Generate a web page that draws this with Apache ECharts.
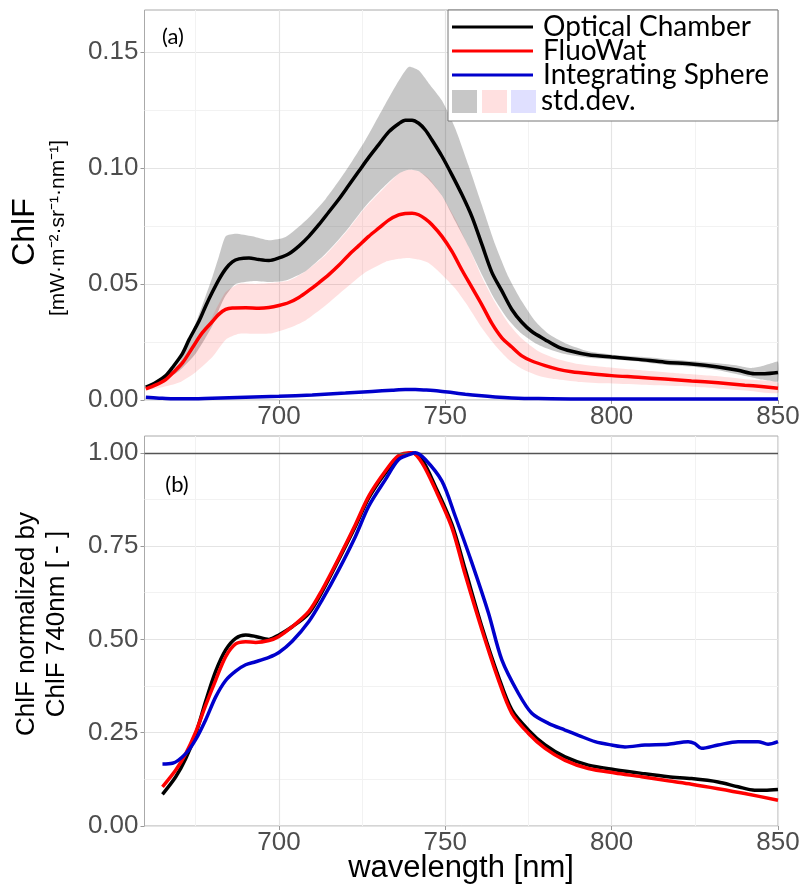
<!DOCTYPE html>
<html>
<head>
<meta charset="utf-8">
<script src="https://cdn.jsdelivr.net/npm/echarts@6/dist/echarts.min.js"></script>
<style>
html,body{margin:0;padding:0;background:#fff;}
#chart{width:804px;height:885px;}
</style>
</head>
<body>
<div id="chart"></div>
<script>
// ---------- Panel (a): ChlF radiance ----------
const wlBlackA = [660,663,666,668,671,673,676,678,680,682,684,686,688,691,694,697,700,703,706,709,712,715,718,721,724,727,730,733,736,738,740,742,744,746,749,752,755,758,761,764,767,770,773,776,780,784,788,793,800,808,816,824,832,838,843,846,850];
const blackA   = [0.0055,0.0075,0.0105,0.014,0.020,0.026,0.034,0.0405,0.0465,0.052,0.0565,0.0595,0.0608,0.0612,0.0605,0.0601,0.0612,0.063,0.0663,0.0705,0.0755,0.081,0.0865,0.0925,0.0985,0.1045,0.110,0.1155,0.119,0.1205,0.1205,0.1192,0.1163,0.112,0.105,0.097,0.0885,0.079,0.067,0.055,0.047,0.039,0.0335,0.0295,0.026,0.0228,0.021,0.0195,0.0185,0.0175,0.0163,0.0155,0.0142,0.0128,0.0113,0.0113,0.0118];

const wlRedA = [660,663,666,668,671,674,677,680,682,684,686,690,694,697,700,703,706,709,712,715,718,721,724,727,730,733,736,738,740,742,744,746,749,752,755,758,761,764,767,770,773,776,780,784,788,793,800,808,816,824,832,840,845,850];
const redA   = [0.0048,0.0065,0.0088,0.0115,0.016,0.0225,0.029,0.0338,0.037,0.039,0.0396,0.0397,0.0395,0.0398,0.0407,0.042,0.0442,0.0472,0.0505,0.054,0.058,0.0625,0.0665,0.0705,0.074,0.0775,0.0797,0.0803,0.0805,0.0798,0.078,0.0755,0.0705,0.064,0.056,0.0485,0.041,0.033,0.0268,0.0228,0.019,0.0168,0.0148,0.0132,0.0122,0.0114,0.0105,0.0098,0.009,0.0082,0.0074,0.0064,0.0058,0.0051];

const wlBlueA = [660,664,668,672,680,690,700,710,720,728,734,738,741,744,748,752,756,760,765,770,778,790,810,830,850];
const blueA   = [0.0012,0.0008,0.0005,0.0005,0.0008,0.0012,0.0016,0.0022,0.0030,0.0037,0.0042,0.0045,0.0045,0.0043,0.0039,0.0032,0.0025,0.0019,0.0013,0.0009,0.0006,0.0004,0.0004,0.0004,0.0004];

// std.dev band of Optical Chamber
const wlGray   = [660,665,670,675,680,682,684,687,692,697,702,708,714,720,726,732,736,739,742,745,749,753,757,761,765,769,773,777,781,786,793,801,809,816,824,832,838,842,845,848,850];
const grayUp   = [0.006,0.010,0.016,0.033,0.053,0.062,0.0705,0.0716,0.0705,0.0688,0.0702,0.0772,0.0865,0.0985,0.112,0.1275,0.1375,0.1435,0.142,0.1365,0.129,0.117,0.101,0.084,0.067,0.053,0.0425,0.034,0.0285,0.0245,0.021,0.0194,0.0186,0.0177,0.0168,0.0158,0.0148,0.0138,0.0145,0.0158,0.0165];
const grayLo   = [0.005,0.008,0.0125,0.020,0.032,0.039,0.045,0.050,0.0512,0.0508,0.0515,0.0555,0.063,0.0725,0.0835,0.0925,0.0975,0.0992,0.0985,0.095,0.088,0.077,0.066,0.054,0.043,0.0345,0.0285,0.0245,0.022,0.0198,0.0182,0.0174,0.0164,0.0152,0.0144,0.0128,0.011,0.0098,0.0088,0.0082,0.008];

// std.dev band of FluoWat
const wlPink   = [660,665,670,675,680,684,688,693,698,703,708,714,720,726,732,736,739,742,745,749,753,757,761,765,769,773,778,783,790,798,809,820,832,841,850];
const pinkUp   = [0.0058,0.0085,0.0135,0.0225,0.036,0.0465,0.050,0.050,0.0505,0.0515,0.0555,0.0625,0.072,0.083,0.092,0.0975,0.0992,0.0985,0.0955,0.088,0.078,0.066,0.053,0.042,0.033,0.0265,0.021,0.018,0.0155,0.0142,0.0128,0.0115,0.0102,0.0088,0.0075];
const pinkLo   = [0.0042,0.0055,0.0075,0.012,0.0185,0.026,0.0285,0.0285,0.0288,0.031,0.0343,0.0407,0.048,0.055,0.0595,0.0608,0.0612,0.0605,0.059,0.054,0.048,0.040,0.031,0.0235,0.0175,0.0135,0.0105,0.009,0.0078,0.0072,0.0066,0.006,0.005,0.004,0.003];

// ---------- Panel (b): normalized by ChlF 740 nm ----------
const wlBlackB = [665,669,672,675,678,681,684,687,690,693,697,700,704,709,713,718,723,727,732,736,740,743,747,752,756,761,766,770,775,780,786,793,801,809,817,824,832,838,843,846,850];
const blackB   = [0.085,0.132,0.181,0.247,0.335,0.415,0.472,0.503,0.512,0.508,0.500,0.512,0.534,0.570,0.628,0.714,0.803,0.879,0.946,0.987,1.000,0.982,0.910,0.808,0.687,0.534,0.400,0.311,0.257,0.217,0.185,0.163,0.151,0.141,0.132,0.127,0.118,0.105,0.096,0.096,0.098];

const wlRedB = [665,669,672,675,678,681,684,687,690,693,697,700,704,709,713,718,723,727,732,736,740,743,747,752,756,761,766,770,775,780,786,793,801,809,817,824,832,840,850];
const redB   = [0.105,0.150,0.194,0.252,0.324,0.391,0.454,0.488,0.494,0.492,0.497,0.508,0.534,0.575,0.633,0.718,0.808,0.884,0.951,0.993,1.000,0.973,0.902,0.799,0.673,0.526,0.391,0.302,0.248,0.208,0.176,0.154,0.142,0.132,0.121,0.112,0.100,0.087,0.069];

const wlBlueB = [665,668,672,675,678,681,684,687,690,693,697,700,704,709,713,718,723,727,732,736,740,741,744,749,753,758,763,767,772,776,781,786,790,795,800,804,810,817,823,825,827,832,838,844,847,850];
const blueB   = [0.166,0.168,0.194,0.232,0.285,0.346,0.390,0.415,0.432,0.440,0.452,0.465,0.495,0.548,0.606,0.687,0.776,0.857,0.928,0.982,0.998,1.000,0.982,0.924,0.830,0.705,0.570,0.445,0.355,0.302,0.275,0.257,0.243,0.226,0.217,0.212,0.217,0.219,0.226,0.221,0.208,0.217,0.226,0.226,0.219,0.226];

// ---------- Axes / ticks ----------
const xMajor = [700,750,800,850];
const xMinor = [675,725,775,825];
const yMajorA = [0,0.05,0.10,0.15];
const yMinorA = [0.025,0.075,0.125];
const yMajorB = [0,0.25,0.5,0.75,1.0];
const yMinorB = [0.125,0.375,0.625,0.875];
const seriesNames = ['Optical Chamber','FluoWat','Integrating Sphere'];
const refLineB = 1.0;

const pairs = (xs, ys) => xs.map((x, i) => [x, ys[i]]);

const COL = {black:'#000000', red:'#ff0000', blue:'#0000cc'};
const LABEL_FONT = 'Liberation Sans, Arial, sans-serif';

function majorX(gi){
  return {gridIndex:gi, type:'value', min:659.6, max:850,
    axisLine:{show:false},
    axisTick:{show:true, customValues:xMajor, length:4, lineStyle:{color:'#999'}},
    axisLabel:{customValues:xMajor, fontFamily:LABEL_FONT, fontSize:26, color:'#4d4d4d', margin:4},
    splitLine:{show:true, lineStyle:{color:'#e4e4e4', width:1.2}}};
}
function minorX(gi){
  return {gridIndex:gi, type:'value', min:659.6, max:850, position:'top',
    axisLine:{show:false}, axisLabel:{show:false},
    axisTick:{show:false, customValues:xMinor},
    splitLine:{show:true, lineStyle:{color:'#f2f2f2', width:1}}};
}
function majorY(gi, max, maj){
  return {gridIndex:gi, type:'value', min:0, max:max,
    axisLine:{show:false},
    axisTick:{show:true, customValues:maj, length:4, lineStyle:{color:'#999'}},
    axisLabel:{customValues:maj, fontFamily:LABEL_FONT, fontSize:26, color:'#4d4d4d', margin:6,
      formatter:v => Number(v).toFixed(2)},
    splitLine:{show:true, lineStyle:{color:'#e4e4e4', width:1.2}}};
}
function minorY(gi, max, mino){
  return {gridIndex:gi, type:'value', min:0, max:max, position:'right',
    axisLine:{show:false}, axisLabel:{show:false},
    axisTick:{show:false, customValues:mino},
    splitLine:{show:true, lineStyle:{color:'#f2f2f2', width:1}}};
}

function band(xs, lo, hi, color, z){
  return {type:'custom', xAxisIndex:0, yAxisIndex:0, clip:true, z:z, silent:true,
    data:[[750, 0.05]],
    renderItem:function(params, api){
      const pts = [];
      for (let i = 0; i < xs.length; i++) pts.push(api.coord([xs[i], hi[i]]));
      for (let i = xs.length - 1; i >= 0; i--) pts.push(api.coord([xs[i], lo[i]]));
      return {type:'polygon', shape:{points:pts, smooth:0.2}, style:{fill:color}};
    }};
}
function line(name, xs, ys, color, xi, yi, z, extra){
  return Object.assign({type:'line', name:name, xAxisIndex:xi, yAxisIndex:yi, data:pairs(xs, ys),
    symbol:'none', smooth:0.3, z:z, lineStyle:{color:color, width:3.5}, itemStyle:{color:color}}, extra || {});
}

const chart = echarts.init(document.getElementById('chart'), null, {renderer:'canvas'});
const option = {
  animation:false,
  backgroundColor:'#ffffff',
  grid:[
    {left:144.5, top:10, width:633.5, height:390, show:true, borderColor:'#aaaaaa', borderWidth:1, backgroundColor:'transparent'},
    {left:144.5, top:436, width:633.5, height:390, show:true, borderColor:'#aaaaaa', borderWidth:1, backgroundColor:'transparent'}
  ],
  xAxis:[majorX(0), minorX(0), majorX(1), minorX(1)],
  yAxis:[majorY(0, 0.168, yMajorA), minorY(0, 0.168, yMinorA), majorY(1, 1.045, yMajorB), minorY(1, 1.045, yMinorB)],
  legend:{
    data:seriesNames, orient:'vertical', left:452, top:13, padding:0, itemGap:-4,
    icon:'rect', itemWidth:81, itemHeight:3, z:8, selectedMode:false,
    textStyle:{fontFamily:'Lato, sans-serif', fontSize:28, color:'#000', lineHeight:25, padding:[0,0,0,5]}
  },
  graphic:[
    {type:'rect', z:7, shape:{x:448, y:10, width:330, height:111}, style:{fill:'#ffffff', stroke:'#777777', lineWidth:1}},
    {type:'rect', z:8, shape:{x:452, y:90, width:25, height:23}, style:{fill:'rgba(0,0,0,0.22)'}},
    {type:'rect', z:8, shape:{x:482, y:90, width:25, height:23}, style:{fill:'rgba(255,0,0,0.12)'}},
    {type:'rect', z:8, shape:{x:511, y:90, width:25, height:23}, style:{fill:'rgba(0,0,255,0.12)'}},
    {type:'text', z:8, x:541, y:101, style:{text:'std.dev.', font:'28px Lato, sans-serif', fill:'#000', align:'left', verticalAlign:'middle'}},
    {type:'text', z:8, x:173, y:37, style:{text:'(a)', font:'22px Lato, sans-serif', fill:'#000', align:'center', verticalAlign:'middle'}},
    {type:'text', z:8, x:177, y:485, style:{text:'(b)', font:'22px Lato, sans-serif', fill:'#000', align:'center', verticalAlign:'middle'}},
    {type:'text', z:8, x:25, y:232, rotation:Math.PI/2, style:{text:'ChlF', font:'32px ' + LABEL_FONT, fill:'#000', align:'center', verticalAlign:'middle'}},
    {type:'text', z:8, x:58, y:228, rotation:Math.PI/2, style:{text:'[mW·m⁻²·sr⁻¹·nm⁻¹]', font:'21px ' + LABEL_FONT, fill:'#000', align:'center', verticalAlign:'middle'}},
    {type:'text', z:8, x:42, y:624, rotation:Math.PI/2, style:{text:'ChlF normalized by\nChlF 740nm [ - ]', font:'26px ' + LABEL_FONT, lineHeight:30, fill:'#000', align:'center', verticalAlign:'middle'}},
    {type:'text', z:8, x:461, y:868, style:{text:'wavelength [nm]', font:'31px ' + LABEL_FONT, fill:'#000', align:'center', verticalAlign:'middle'}}
  ],
  series:[
    band(wlGray, grayLo, grayUp, 'rgba(0,0,0,0.22)', 1),
    band(wlPink, pinkLo, pinkUp, 'rgba(255,0,0,0.12)', 2),
    line(seriesNames[0], wlBlackA, blackA, COL.black, 0, 0, 3),
    line(seriesNames[1], wlRedA, redA, COL.red, 0, 0, 4),
    line(seriesNames[2], wlBlueA, blueA, COL.blue, 0, 0, 5),
    line(seriesNames[0], wlBlackB, blackB, COL.black, 2, 2, 3, {
      markLine:{silent:true, symbol:['none','none'], label:{show:false},
        lineStyle:{color:'#555555', width:1.4, type:'solid'}, data:[{yAxis:refLineB}]}
    }),
    line(seriesNames[1], wlRedB, redB, COL.red, 2, 2, 4),
    line(seriesNames[2], wlBlueB, blueB, COL.blue, 2, 2, 5)
  ]
};
chart.setOption(option);
</script>
</body>
</html>
